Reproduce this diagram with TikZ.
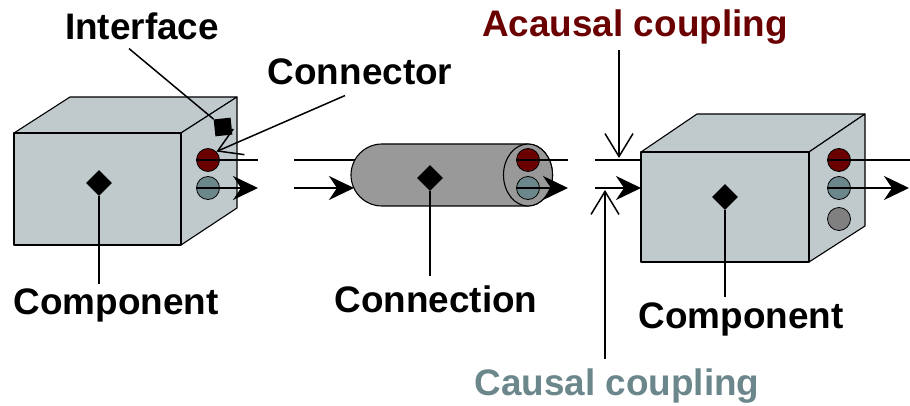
\documentclass[tikz,border=0pt]{standalone}
\usepackage{fontspec}
\setmainfont{Liberation Sans}
\usepackage{tikz}
\usetikzlibrary{arrows.meta,shapes.geometric}
\definecolor{kutuGri}{HTML}{C0CACC}
\definecolor{kabloGri}{HTML}{999999}
\definecolor{koyuKirmizi}{HTML}{6B0000}
\definecolor{griMavi}{HTML}{6C878C}
\definecolor{ortaGri}{HTML}{808080}

\begin{document}
\begin{tikzpicture}[x=1pt,y=-1pt,
  etiket/.style={font=\fontsize{36.9}{44}\selectfont\bfseries,anchor=base,inner sep=0pt},
  kutu/.style={fill=kutuGri,draw=black,line width=1.1pt,line join=round},
  elmas/.style={diamond,fill=black,minimum size=26pt,inner sep=0pt},
  uc/.style={circle,draw=black,line width=0.8pt,minimum size=23pt,inner sep=0pt},
  hat/.style={line width=1.5pt},
  okDolu/.style={hat,-{Stealth[length=25pt,width=24pt,inset=8pt]}},
  okAcik/.style={hat,-{Straight Barb[length=23pt,width=28pt]}}]
\useasboundingbox (0,0) rectangle (910,406);
% sol bilesen
\filldraw[kutu] (14,133) -- (70,97) -- (237,97) -- (181,133) -- cycle;
\filldraw[kutu] (181,133) -- (237,97) -- (237,208) -- (181,245) -- cycle;
\filldraw[kutu] (14,133) rectangle (181,245);
\node[fill=black,minimum size=17pt,inner sep=0pt,rotate=6] (arayuz) at (223,127) {};
\node[uc,fill=koyuKirmizi] (kirmiziA) at (208,160) {};
\node[uc,fill=griMavi] (maviA) at (208,188) {};
\node[elmas] (elmasA) at (99,183) {};
\coordinate (cikisA) at (258,160);
\coordinate (cikisB) at (258,188);
\draw[hat] (kirmiziA.west) -- (cikisA);
\draw[okDolu] (maviA.west) -- (cikisB);
% baglanti
\filldraw[kutu,fill=kabloGri] (528,144) -- (382,144) arc[start angle=270,end angle=90,radius=31]
  -- (528,206) arc[start angle=90,end angle=-90,x radius=24.5,y radius=31] -- cycle;
\filldraw[kutu,fill=kabloGri] (528,175) ellipse[x radius=24.5,y radius=31];
\node[uc,fill=koyuKirmizi] (kirmiziB) at (528,160) {};
\node[uc,fill=griMavi] (maviB) at (528,188) {};
\node[elmas] (elmasB) at (430,178) {};
\coordinate (araA) at (294,160);
\coordinate (araB) at (294,188);
\coordinate (kabloA) at (355,160);
\coordinate (kabloB) at (354,188);
\draw[hat] (araA) -- (kabloA);
\draw[okDolu] (araB) -- (kabloB);
\coordinate (cikisC) at (568,160);
\coordinate (cikisD) at (568,188);
\draw[hat] (kirmiziB.west) -- (cikisC);
\draw[okDolu] (maviB.west) -- (cikisD);
% sag bilesen
\filldraw[kutu] (641,152) -- (697,114) -- (865,114) -- (809,152) -- cycle;
\filldraw[kutu] (809,152) -- (865,114) -- (865,226) -- (809,262) -- cycle;
\filldraw[kutu] (641,152) rectangle (809,262);
\node[uc,fill=koyuKirmizi] (kirmiziC) at (839,160) {};
\node[uc,fill=griMavi] (maviC) at (839,188) {};
\node[uc,fill=ortaGri] (griC) at (839,219) {};
\node[elmas] (elmasC) at (725,197) {};
\coordinate (girisA) at (595,160);
\coordinate (girisB) at (595,188);
\coordinate (onYuzA) at (641,160);
\coordinate (onYuzB) at (641,188);
\draw[hat] (girisA) -- (onYuzA);
\draw[okDolu] (girisB) -- (onYuzB);
\coordinate (cikisE) at (910,160);
\coordinate (cikisF) at (909,188);
\draw[hat] (kirmiziC.west) -- (cikisE);
\draw[okDolu] (maviC.west) -- (cikisF);
% etiketler
\node[etiket] (arayuzEt) at (142,40) {Interface};
\node[etiket] (baglayiciEt) at (360,85) {Connector};
\node[etiket,text=koyuKirmizi] (akozalEt) at (635,37) {Acausal coupling};
\node[etiket,text=griMavi] (kozalEt) at (617,395) {Causal coupling};
\node[etiket] (bilesenAEt) at (116,314) {Component};
\node[etiket] (baglantiEt) at (436,312) {Connection};
\node[etiket] (bilesenBEt) at (741,328) {Component};
\draw[hat] ([xshift=-13pt,yshift=-8pt]arayuzEt.south) -- (arayuz);
\draw[okAcik] ([xshift=-15pt,yshift=-10pt]baglayiciEt.south) -- (kirmiziA.north east);
\draw[hat,shorten >=4.5pt] (elmasA.south) -- (elmasA.south |- bilesenAEt.north);
\draw[hat,shorten >=9.5pt] (elmasB.south) -- (elmasB.south |- baglantiEt.north);
\draw[hat,shorten >=5.5pt] (elmasC.south) -- (elmasC.south |- bilesenBEt.north);
\coordinate (akUc) at (619,158);
\coordinate (kzUc) at (605,190);
\draw[okAcik,shorten <=5pt] (akUc |- akozalEt.south) -- (akUc);
\draw[okAcik,shorten <=9.5pt] (kzUc |- kozalEt.north) -- (kzUc);
\end{tikzpicture}
\end{document}
